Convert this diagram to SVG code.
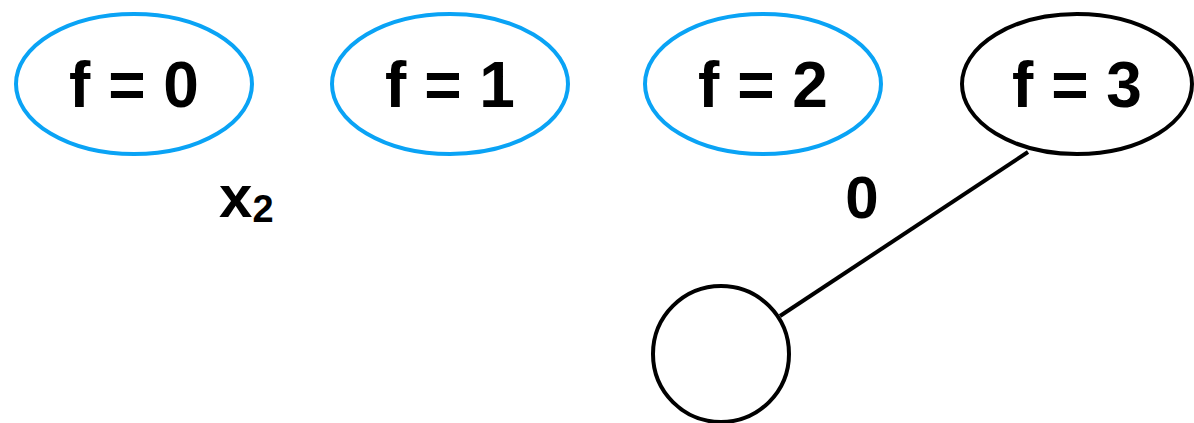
<svg xmlns="http://www.w3.org/2000/svg" width="1194" height="423" viewBox="0 0 1194 423">
<style>
.t{font-family:"Liberation Sans",Arial,sans-serif;font-weight:bold;fill:#000}
.blue{fill:none;stroke:#0aa3f5;stroke-width:4}
.blk{fill:none;stroke:#000;stroke-width:4}
</style>
<rect width="1194" height="423" fill="#fff"/>
<g id="connectors">
<line x1="1028" y1="152" x2="780" y2="316" stroke="#000" stroke-width="4"/>
</g>
<g id="n0"><ellipse class="blue" cx="134" cy="84" rx="118" ry="70"/><text class="t" x="134" y="107" font-size="64" text-anchor="middle">f = 0</text></g>
<g id="n1"><ellipse class="blue" cx="450" cy="84" rx="118" ry="70"/><text class="t" x="450" y="107" font-size="64" text-anchor="middle">f = 1</text></g>
<g id="n2"><ellipse class="blue" cx="763" cy="84" rx="118" ry="70"/><text class="t" x="763" y="107" font-size="64" text-anchor="middle">f = 2</text></g>
<g id="n3"><ellipse class="blk" cx="1077" cy="84" rx="115" ry="70"/><text class="t" x="1077" y="107" font-size="64" text-anchor="middle">f = 3</text></g>
<g id="n4"><circle class="blk" cx="721" cy="354" r="68"/></g>
<g id="labels">
<text class="t" x="219" y="217" font-size="60">x<tspan font-size="38" dy="5">2</tspan></text>
<text class="t" x="862" y="218" font-size="60" text-anchor="middle">0</text>
</g>
</svg>
